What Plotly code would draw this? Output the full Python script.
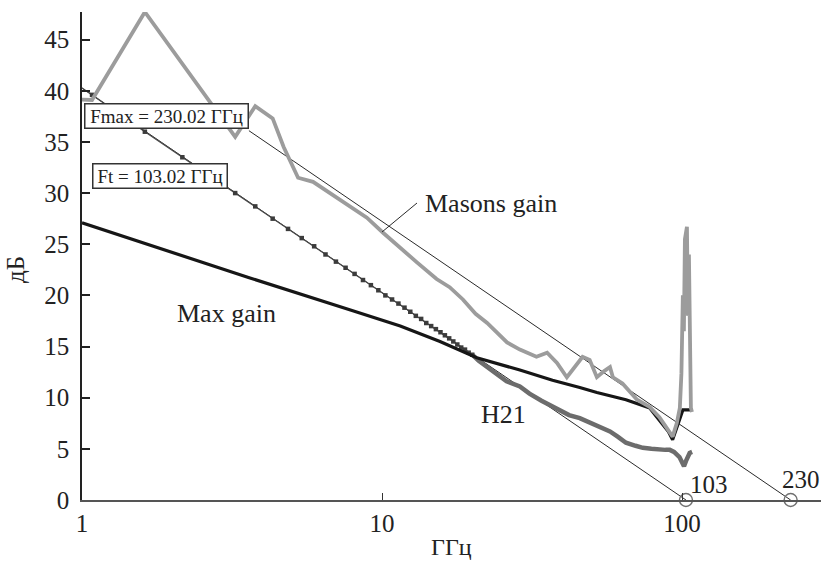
import plotly.graph_objects as go

# ---------------- data (frequency in GHz, gain in dB) ----------------
masons_f = [0.54, 1.08, 1.62, 2.16, 2.70, 3.24, 3.78, 4.32, 4.70, 5.25, 5.89, 6.70, 7.80,
            8.9, 10.1, 11.5, 13.1, 15.2, 16.8, 18.6, 20.5, 22.4, 26.1, 28.8, 32.7, 35.5,
            38.3, 41.3, 44.0, 46.6, 49.2, 52.0, 55.0, 57.5, 58.8, 63.3, 70.8, 78.0, 84.0,
            88.0, 91.0, 93.0, 96.0, 98.3, 99.5, 100.6, 101.4, 102.2, 103.8, 104.6, 105.4,
            106.2, 107.0, 107.9]
masons_db = [39.4, 39.1, 47.7, 42.6, 38.7, 35.5, 38.5, 37.3, 34.5, 31.5, 31.1, 30.0, 28.7,
             27.6, 26.1, 24.6, 23.2, 21.6, 20.8, 19.6, 18.2, 17.3, 15.4, 14.7, 14.0, 14.4,
             13.4, 12.0, 13.0, 14.0, 13.7, 12.0, 12.6, 13.0, 12.0, 11.4, 9.8, 9.1, 8.1,
             7.3, 6.6, 6.2, 7.5, 9.0, 12.4, 20.0, 16.5, 25.5, 26.7, 18.0, 24.0,
             11.5, 9.0, 8.6]

maxgain_f = [1.0, 1.82, 3.63, 7.8, 11.5, 15.6, 20.7, 28.8, 37.0, 45.6, 52.0, 65.0,
             78.0, 84.0, 90.0, 93.0, 96.0, 100.6, 107.9]
maxgain_db = [27.1, 24.6, 21.7, 18.6, 17.0, 15.5, 13.9, 12.7, 11.7, 11.0, 10.5, 9.8,
              9.0, 7.8, 6.7, 5.9, 7.1, 8.8, 8.8]

h21_f = [0.54, 1.08, 1.62, 2.16, 2.70, 3.24, 3.78, 4.32, 4.86, 5.40, 5.94, 6.48, 7.02,
         7.56, 8.10, 8.64, 9.18, 9.72, 10.26, 10.80, 11.34, 11.88, 12.42, 12.96, 13.50,
         14.04, 14.58, 15.12, 15.66, 16.20, 16.74, 17.28, 17.82, 18.36, 18.90, 19.44,
         19.98, 21.0, 22.4, 24.0, 26.0, 28.8, 31.0, 34.0, 37.0, 40.0, 42.0, 45.6, 48.0,
         50.6, 54.0, 57.5, 61.0, 65.0, 70.0, 74.0, 79.0, 84.0, 88.0, 91.0, 94.0, 98.0,
         100.0, 101.5, 103.0, 104.6, 106.0, 108.0]
h21_db = [45.6, 39.6, 36.0, 33.5, 31.6, 30.0, 28.7, 27.5, 26.5, 25.6, 24.8, 24.0, 23.3,
          22.7, 22.1, 21.5, 21.0, 20.5, 20.0, 19.6, 19.2, 18.8, 18.4, 18.0, 17.7,
          17.3, 17.0, 16.7, 16.4, 16.1, 15.8, 15.5, 15.2, 14.9, 14.7, 14.4,
          14.2, 13.6, 13.0, 12.3, 11.6, 11.1, 10.4, 9.7, 9.1, 8.6, 8.3, 8.0, 7.7,
          7.5, 7.1, 6.7, 6.2, 5.6, 5.3, 5.1, 5.0, 4.9, 4.9, 4.9, 4.7, 4.2,
          3.6, 3.3, 3.8, 4.4, 4.6, 4.7]
h21_split = 37  # index where the marker-drawn part ends

ft_line_f = [1.0, 103.02]
ft_line_db = [40.26, 0.0]
fmax_line_f = [3.6, 230.02]
fmax_line_db = [36.1, 0.0]

cutoff_f = [103.02, 230.02]
cutoff_db = [0.0, 0.0]
cutoff_labels = ["103", "230"]

x_ticks = [1, 10, 100]
y_ticks = [0, 5, 10, 15, 20, 25, 30, 35, 40, 45]

FONT = "Liberation Serif, Times New Roman, serif"
TXT = "#222222"

fig = go.Figure()

fig.add_trace(go.Scatter(x=ft_line_f, y=ft_line_db, mode="lines",
                         line=dict(color="#2a2a2a", width=1), showlegend=False))
fig.add_trace(go.Scatter(x=fmax_line_f, y=fmax_line_db, mode="lines",
                         line=dict(color="#2a2a2a", width=1), showlegend=False))
fig.add_trace(go.Scatter(x=h21_f[h21_split - 1:], y=h21_db[h21_split - 1:], mode="lines",
                         line=dict(color="#6c6c6c", width=4.5), showlegend=False))
fig.add_trace(go.Scatter(x=h21_f[:h21_split], y=h21_db[:h21_split], mode="lines+markers",
                         line=dict(color="#4a4a4a", width=1.3),
                         marker=dict(symbol="square", size=4.5, color="#3c3c3c"),
                         showlegend=False))
fig.add_trace(go.Scatter(x=maxgain_f, y=maxgain_db, mode="lines",
                         line=dict(color="#161616", width=3.2), showlegend=False))
fig.add_trace(go.Scatter(x=masons_f, y=masons_db, mode="lines",
                         line=dict(color="#9c9c9c", width=3.8), showlegend=False))
fig.add_trace(go.Scatter(x=cutoff_f, y=cutoff_db, mode="markers", cliponaxis=False,
                         marker=dict(symbol="circle-open", size=13,
                                     color="#707070", line=dict(width=1.4, color="#707070")),
                         showlegend=False))

L, T, W, H = 82, 12, 739, 488


def px(xp, yp):
    return (xp - L) / W, (T + H - yp) / H


annots = []


def text(s, xp, yp, size=26, **kw):
    x, y = px(xp, yp)
    d = dict(text=s, x=x, y=y, xref="paper", yref="paper", showarrow=False,
             xanchor="center", yanchor="middle",
             font=dict(family=FONT, size=size, color=TXT))
    d.update(kw)
    annots.append(d)


text("Max gain", 226, 313)
text("H21", 503, 414)
text("Masons gain", 491, 203)
text(cutoff_labels[0], 709, 484, size=25)
text(cutoff_labels[1], 801, 479, size=25)
text("Fmax = 230.02 ГГц", 166.5, 115.5, size=19, bordercolor="#333333", borderwidth=1.5,
     borderpad=1, bgcolor="white", width=160, align="center")
text("Ft = 103.02 ГГц", 159.5, 175.5, size=19, bordercolor="#333333", borderwidth=1.5,
     borderpad=1, bgcolor="white", width=131, align="center")
text("ГГц", 451, 547, size=24)
text("дБ", 15, 270, size=25, textangle=-90)

lx0, ly0 = px(417, 203)
lx1, ly1 = px(382, 232)

fig.update_layout(
    width=821, height=563,
    margin=dict(l=L, r=821 - L - W, t=T, b=563 - T - H),
    paper_bgcolor="white", plot_bgcolor="white",
    font=dict(family=FONT, color=TXT),
    annotations=annots,
    shapes=[dict(type="line", xref="paper", yref="paper", x0=lx0, y0=ly0, x1=lx1, y1=ly1,
                 line=dict(color="#2a2a2a", width=1))],
    xaxis=dict(type="log", range=[0, 2.463], showline=True, linecolor="#555555", linewidth=2,
               ticks="inside", ticklen=7, tickcolor="#333333", tickwidth=1.2,
               tickvals=x_ticks, ticktext=[str(v) for v in x_ticks],
               tickfont=dict(family=FONT, size=25, color=TXT),
               showgrid=False, zeroline=False, ticklabelstandoff=0),
    yaxis=dict(range=[0, 47.7], showline=True, linecolor="#222222", linewidth=1.5,
               ticks="inside", ticklen=8, tickcolor="#222222", tickwidth=1.5,
               tickvals=y_ticks, tickfont=dict(family=FONT, size=25, color=TXT),
               showgrid=False, zeroline=False, ticklabelstandoff=6),
)

fig.write_html("out.html")
